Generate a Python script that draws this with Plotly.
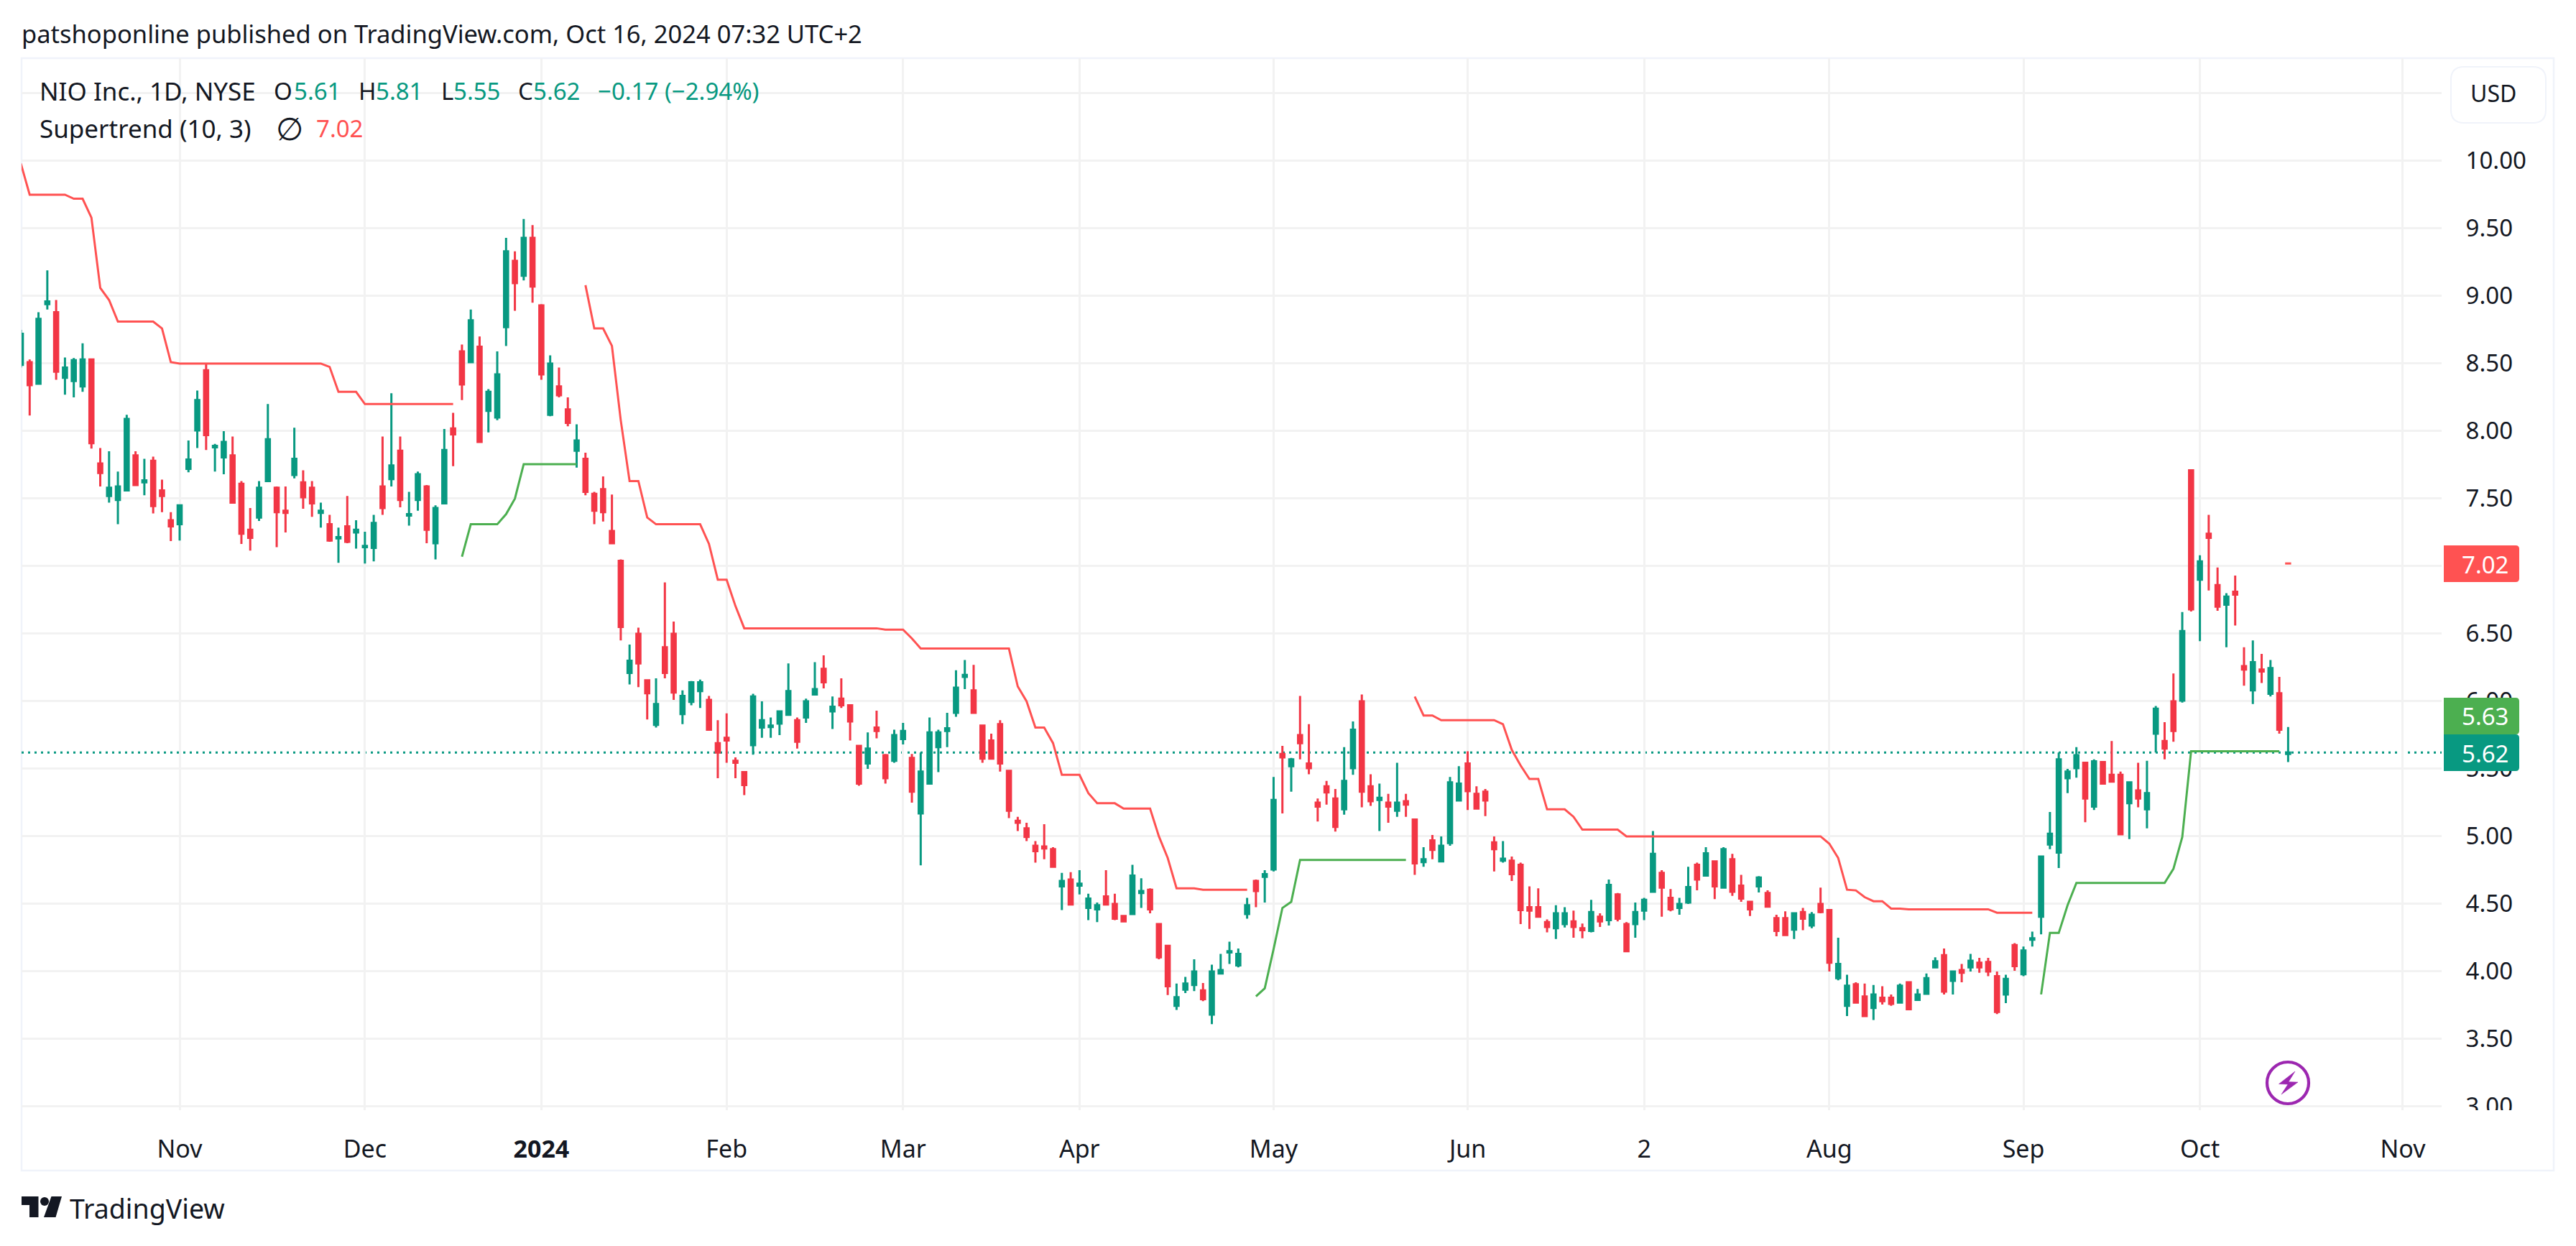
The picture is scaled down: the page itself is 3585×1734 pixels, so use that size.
import plotly.graph_objects as go

bars = list(range(-18, 240))

opens = [
 8.49,8.51,8.35,8.94,8.88,8.395,8.37,8.33,8.53,7.76,
 7.52,7.49,7.56,7.82,7.62,7.78,7.56,7.34,7.31,7.72,
 8.005,8.45,7.88,7.805,7.82,7.61,7.27,7.36,7.63,7.58,
 7.41,7.675,7.62,7.58,7.395,7.31,7.205,7.295,7.25,7.14,
 7.135,7.59,7.645,7.855,7.375,7.49,7.59,7.17,7.465,8.02,
 8.59,8.51,8.625,8.15,8.10,8.77,9.26,9.15,9.43,8.93,
 8.12,8.33,8.16,7.855,7.795,7.535,7.57,7.26,7.04,6.21,
 6.50,6.155,5.825,6.40,6.50,5.905,5.995,6.075,6.01,5.69,
 5.73,5.56,5.475,5.675,5.805,5.81,5.835,5.90,5.86,5.88,
 6.05,6.24,5.925,6.02,5.97,5.67,5.54,5.805,5.60,5.56,
 5.72,5.58,5.17,5.39,5.66,5.78,5.915,6.18,6.08,5.82,
 5.71,5.83,5.485,5.115,5.06,4.93,4.925,4.905,4.63,4.68,
 4.635,4.47,4.46,4.555,4.50,4.41,4.425,4.58,4.605,4.35,
 4.19,3.745,3.865,3.90,3.86,3.68,3.985,4.14,4.045,4.425,
 4.67,4.70,4.755,5.61,5.52,5.75,5.54,5.25,5.37,5.28,
 5.20,5.505,6.0,5.37,5.27,5.25,5.19,5.26,5.125,4.81,
 4.97,4.815,4.95,5.265,5.54,5.315,5.33,4.955,4.82,4.82,
 4.79,4.475,4.475,4.365,4.32,4.35,4.37,4.32,4.30,4.405,
 4.38,4.57,4.35,4.35,4.45,4.59,4.73,4.545,4.47,4.51,
 4.79,4.71,4.815,4.62,4.83,4.635,4.515,4.63,4.58,4.395,
 4.395,4.31,4.44,4.34,4.50,4.455,3.95,3.745,3.905,3.815,
 3.73,3.805,3.805,3.77,3.92,3.79,3.835,4.03,4.12,3.93,
 4.01,4.03,4.065,4.07,3.965,3.83,4.195,3.98,4.235,4.405,
 4.94,4.88,5.43,5.505,5.545,5.22,5.55,5.455,5.455,5.245,
 5.34,5.20,5.76,5.705,6.0,6.005,7.71,6.90,7.24,6.86,
 6.715,6.81,6.26,6.08,6.235,6.055,6.06,5.61]

highs = [
 8.75,8.53,8.88,9.19,8.97,8.545,8.54,8.65,8.53,7.875,
 7.85,7.70,8.12,7.85,7.795,7.81,7.64,7.40,7.45,7.93,
 8.30,8.50,7.905,8.0,7.96,7.63,7.43,7.63,8.20,7.59,
 7.59,8.025,7.71,7.63,7.47,7.38,7.285,7.52,7.34,7.255,
 7.38,7.96,8.28,7.96,7.55,7.70,7.60,7.45,8.015,8.135,
 8.64,8.90,8.70,8.31,8.59,9.43,9.33,9.57,9.525,8.94,
 8.56,8.47,8.25,8.05,7.84,7.55,7.665,7.53,7.05,6.42,
 6.545,6.155,6.17,6.88,6.59,6.08,6.15,6.16,6.04,5.86,
 5.91,5.585,5.475,6.055,6.0,5.88,5.925,6.28,5.88,6.02,
 6.29,6.34,6.035,6.17,5.975,5.675,5.77,5.93,5.61,5.79,
 5.84,5.61,5.62,5.88,5.79,5.915,6.23,6.305,6.27,5.82,
 5.76,5.86,5.49,5.145,5.10,4.965,5.09,4.92,4.73,4.735,
 4.75,4.575,4.51,4.75,4.575,4.41,4.79,4.69,4.615,4.35,
 4.19,3.91,3.96,4.09,3.915,4.05,4.13,4.22,4.17,4.545,
 4.68,4.75,5.44,5.67,5.58,6.04,5.83,5.28,5.41,5.35,
 5.66,5.85,6.05,5.46,5.39,5.315,5.545,5.315,5.13,4.92,
 5.01,5.0,5.44,5.52,5.63,5.37,5.35,5.0,4.965,4.85,
 4.805,4.63,4.615,4.385,4.49,4.475,4.45,4.355,4.53,4.43,
 4.68,4.58,4.365,4.51,4.545,5.04,4.75,4.61,4.545,4.775,
 4.805,4.92,4.815,4.92,4.87,4.715,4.52,4.705,4.60,4.42,
 4.445,4.43,4.47,4.44,4.62,4.455,4.25,3.975,3.92,3.91,
 3.90,3.89,3.83,3.91,3.925,3.87,3.985,4.105,4.17,4.005,
 4.055,4.13,4.10,4.10,4.0,3.975,4.21,4.185,4.295,4.85,
 5.18,5.62,5.50,5.66,5.545,5.57,5.55,5.705,5.48,5.40,
 5.545,5.56,5.965,5.845,6.205,6.66,7.71,7.08,7.38,6.99,
 6.80,6.93,6.40,6.45,6.35,6.305,6.18,5.81]

lows = [
 8.47,8.115,8.35,8.90,8.38,8.27,8.25,8.29,7.87,7.59,
 7.47,7.31,7.56,7.60,7.525,7.39,7.40,7.185,7.19,7.695,
 7.875,7.86,7.70,7.68,7.47,7.165,7.115,7.335,7.625,7.14,
 7.25,7.65,7.425,7.365,7.285,7.18,7.025,7.17,7.13,7.02,
 7.035,7.38,7.59,7.435,7.30,7.41,7.17,7.05,7.465,7.74,
 8.23,8.51,7.92,7.99,8.08,8.63,8.89,9.115,8.95,8.38,
 8.11,8.25,8.035,7.73,7.525,7.31,7.33,7.165,6.45,6.125,
 6.105,5.865,5.805,6.17,6.01,5.83,5.97,5.95,5.79,5.43,
 5.545,5.43,5.305,5.605,5.73,5.73,5.75,5.895,5.65,5.84,
 6.045,6.095,5.795,5.95,5.71,5.375,5.50,5.725,5.39,5.545,
 5.68,5.25,4.785,5.385,5.475,5.66,5.885,6.09,5.91,5.545,
 5.57,5.48,5.135,5.04,4.965,4.805,4.83,4.77,4.455,4.49,
 4.57,4.38,4.365,4.49,4.38,4.37,4.42,4.47,4.43,4.09,
 3.825,3.715,3.84,3.855,3.78,3.61,3.985,4.055,4.03,4.39,
 4.475,4.51,4.74,5.17,5.33,5.57,5.46,5.11,5.235,5.035,
 5.16,5.455,5.215,5.225,5.04,5.10,5.145,5.145,4.715,4.775,
 4.83,4.81,4.93,5.26,5.195,5.20,5.15,4.74,4.805,4.67,
 4.35,4.315,4.40,4.29,4.24,4.325,4.25,4.245,4.29,4.33,
 4.34,4.37,4.145,4.25,4.38,4.59,4.405,4.445,4.42,4.50,
 4.60,4.705,4.535,4.62,4.56,4.515,4.41,4.585,4.475,4.26,
 4.27,4.24,4.305,4.32,4.43,4.0,3.935,3.67,3.765,3.67,
 3.64,3.755,3.745,3.765,3.715,3.785,3.83,4.03,3.83,3.83,
 3.92,4.0,3.99,3.965,3.685,3.765,4.005,3.965,4.185,4.275,
 4.905,4.765,5.32,5.435,5.105,5.195,5.385,5.405,5.01,4.98,
 5.215,5.06,5.62,5.57,5.70,5.99,6.665,6.445,6.82,6.67,
 6.40,6.56,6.115,5.98,6.135,6.035,5.76,5.55]

closes = [
 8.72,8.34,8.83,8.96,8.44,8.47,8.525,8.53,7.91,7.69,
 7.58,7.59,8.09,7.60,7.635,7.445,7.52,7.295,7.45,7.79,
 8.23,7.97,7.89,7.92,7.47,7.24,7.21,7.58,7.94,7.40,
 7.395,7.795,7.51,7.465,7.41,7.19,7.215,7.18,7.27,7.15,
 7.32,7.43,7.745,7.49,7.385,7.68,7.27,7.43,7.86,7.975,
 8.345,8.82,7.92,8.29,8.42,9.33,9.095,9.43,9.07,8.42,
 8.50,8.265,8.06,7.93,7.55,7.41,7.40,7.17,6.55,6.30,
 6.28,6.06,5.98,6.21,6.065,6.04,6.14,6.14,5.79,5.62,
 5.71,5.545,5.38,6.035,5.86,5.82,5.925,6.075,5.70,6.0,
 6.09,6.14,5.96,5.97,5.85,5.39,5.65,5.78,5.43,5.75,
 5.78,5.33,5.48,5.77,5.77,5.80,6.10,6.195,5.915,5.575,
 5.575,5.54,5.19,5.10,4.995,4.89,4.91,4.775,4.67,4.495,
 4.65,4.54,4.49,4.495,4.39,4.37,4.71,4.595,4.46,4.105,
 3.89,3.81,3.91,4.0,3.795,4.0,4.01,4.15,4.13,4.49,
 4.595,4.72,5.27,5.585,5.57,5.69,5.505,5.22,5.325,5.07,
 5.41,5.79,5.33,5.26,5.285,5.22,5.25,5.235,4.80,4.83,
 4.90,4.93,5.40,5.39,5.335,5.205,5.265,4.905,4.835,4.72,
 4.455,4.45,4.405,4.33,4.43,4.43,4.33,4.305,4.44,4.37,
 4.64,4.39,4.15,4.44,4.53,4.87,4.62,4.46,4.50,4.625,
 4.68,4.875,4.63,4.905,4.59,4.54,4.46,4.695,4.48,4.30,
 4.27,4.43,4.39,4.42,4.44,4.065,4.055,3.895,3.77,3.67,
 3.83,3.78,3.76,3.895,3.72,3.83,3.95,4.075,3.85,4.0,
 3.99,4.08,4.03,4.0,3.70,3.945,4.04,4.155,4.245,4.85,
 5.02,5.57,5.48,5.60,5.28,5.555,5.39,5.405,5.015,5.40,
 5.28,5.32,5.945,5.65,5.78,6.52,6.68,7.035,7.21,6.70,
 6.775,6.79,6.235,6.29,6.22,6.245,5.79,5.62]

st_red = [
 9.98,9.75,9.75,9.75,9.75,9.75,9.72,9.72,9.58,9.06,8.97,8.81,8.81,8.81,8.81,8.81,8.76,8.51,
 8.50,8.50,8.50,8.50,8.50,8.50,8.50,8.50,8.50,8.50,8.50,8.50,8.50,8.50,8.50,8.50,8.50,
 8.475,8.29,8.29,8.29,8.20,8.20,8.20,8.20,8.20,8.20,8.20,8.20,8.20,8.20,8.20,
 None,None,None,None,None,None,None,None,None,None,None,None,None,None,
 9.08,8.76,8.76,8.63,8.08,7.63,7.63,7.36,7.31,7.31,7.31,7.31,7.31,7.31,7.165,6.90,6.90,6.705,
 6.54,6.54,6.54,6.54,6.54,6.54,6.54,6.54,6.54,6.54,6.54,6.54,6.54,6.54,6.54,6.54,
 6.53,6.53,6.53,6.465,6.39,6.39,6.39,6.39,6.39,6.39,6.39,6.39,6.39,6.39,6.39,
 6.11,6.0,5.805,5.805,5.69,5.455,5.455,5.455,5.32,5.245,5.245,5.245,5.205,5.205,5.205,5.205,
 5.0,4.84,4.615,4.615,4.615,4.605,4.605,4.605,4.605,4.605,4.605,
 None,None,None,None,None,None,None,None,None,None,None,None,None,None,None,None,None,None,
 6.035,5.895,5.895,5.86,5.86,5.86,5.86,5.86,5.86,5.86,5.83,5.64,5.525,5.425,5.425,5.20,5.20,5.20,5.145,
 5.05,5.05,5.05,5.05,5.05,
 5.0,5.0,5.0,5.0,5.0,5.0,5.0,5.0,5.0,5.0,5.0,5.0,5.0,5.0,5.0,5.0,5.0,5.0,5.0,5.0,5.0,5.0,5.0,
 4.945,4.84,4.605,4.60,4.55,4.52,4.52,4.465,4.465,
 4.46,4.46,4.46,4.46,4.46,4.46,4.46,4.46,4.46,4.46,
 4.435,4.435,4.435,4.435,4.435,
 None,None,None,None,None,None,None,None,None,None,None,None,None,None,
 None,None,None,None,None,None,None,None,None,None,None,None,None,None,
 7.02]

st_green = [
 None,None,None,None,None,None,None,None,None,None,None,None,None,None,None,None,None,None,None,None,
 None,None,None,None,None,None,None,None,None,None,None,None,None,None,None,None,None,None,None,None,
 None,None,None,None,None,None,None,None,None,None,
 7.07,7.31,7.31,7.31,7.31,7.385,7.50,7.755,7.755,7.755,7.755,7.755,7.755,7.755,
 None,None,None,None,None,None,None,None,None,None,None,None,None,None,None,None,None,None,None,None,
 None,None,None,None,None,None,None,None,None,None,None,None,None,None,None,None,None,None,None,None,
 None,None,None,None,None,None,None,None,None,None,None,None,None,None,None,None,None,None,None,None,
 None,None,None,None,None,None,None,None,None,None,None,None,None,None,None,None,
 3.815,3.875,4.165,4.47,4.515,4.825,4.825,4.825,4.825,4.825,4.825,4.825,4.825,4.825,4.825,4.825,4.825,4.825,
 None,None,None,None,None,None,None,None,None,None,None,None,None,None,None,None,None,None,None,None,
 None,None,None,None,None,None,None,None,None,None,None,None,None,None,None,None,None,None,None,None,
 None,None,None,None,None,None,None,None,None,None,None,None,None,None,None,None,None,None,None,None,
 None,None,None,None,None,None,None,None,None,None,None,
 3.83,4.285,4.285,4.49,4.655,4.655,4.655,4.655,4.655,4.655,4.655,4.655,4.655,4.655,4.655,
 4.76,4.995,5.63,5.63,5.63,5.63,5.63,5.63,5.63,5.63,5.63,5.63,5.63,None]

assert all(len(a) == len(bars) for a in (opens, highs, lows, closes, st_red, st_green)), \
    [len(a) for a in (bars, opens, highs, lows, closes, st_red, st_green)]

time_ticks = [0, 21, 41, 62, 82, 102, 124, 146, 166, 187, 209, 229, 252]
time_labels = ["Nov", "Dec", "<b>2024</b>", "Feb", "Mar", "Apr", "May", "Jun", "2", "Aug", "Sep", "Oct", "Nov"]
price_ticks = [10.5, 10, 9.5, 9, 8.5, 8, 7.5, 7, 6.5, 6, 5.5, 5, 4.5, 4, 3.5, 3]
price_labels = ["", "10.00", "9.50", "9.00", "8.50", "8.00", "7.50", "7.00", "6.50", "6.00", "5.50", "5.00", "4.50", "4.00", "3.50", "3.00"]
last_close = 5.62
last_st_green = 5.63
last_st_red = 7.02

TEAL, RED = "#089981", "#F23645"
ST_RED, ST_GREEN = "#FF5252", "#4CAF50"
INK = "#131722"
GRID = "#F2F2F2"
BORDER = "#F0F3FA"
FONT = "Noto Sans"
W, H = 3585, 1734
L, R, T, B = 30, 3398, 81, 1545

def px(x): return (x - L) / (R - L)
def py(y): return (B - y) / (B - T)

fig = go.Figure()
fig.add_trace(go.Scatter(x=bars, y=st_red, mode="lines", line=dict(color=ST_RED, width=3), connectgaps=False, showlegend=False))
fig.add_trace(go.Scatter(x=bars, y=st_green, mode="lines", line=dict(color=ST_GREEN, width=3), connectgaps=False, showlegend=False))
fig.add_trace(go.Scatter(x=bars[-1:], y=st_red[-1:], mode="markers",
                         marker=dict(symbol="line-ew", size=6, line=dict(color=ST_RED, width=3)), showlegend=False))
fig.add_trace(go.Candlestick(
    x=bars, open=opens, high=highs, low=lows, close=closes, whiskerwidth=0, showlegend=False,
    increasing=dict(line=dict(color=TEAL, width=3), fillcolor=TEAL),
    decreasing=dict(line=dict(color=RED, width=3), fillcolor=RED)))

shapes = []
def rect(x0, y0, x1, y1, **kw):
    shapes.append(dict(type="rect", xref="paper", yref="paper", x0=px(x0), x1=px(x1), y0=py(y0), y1=py(y1), **kw))
def poly(points, color, width=0):
    d = "M" + " L".join(f"{px(x):.6f},{py(y):.6f}" for x, y in points) + " Z"
    shapes.append(dict(type="path", xref="paper", yref="paper", path=d, fillcolor=color, layer="above",
                       line=dict(width=width, color=color)))
def badge(y0, y1, color):
    r = 5
    d = (f"M{px(3401):.6f},{py(y0):.6f} L{px(3506-r):.6f},{py(y0):.6f} Q{px(3506):.6f},{py(y0):.6f} {px(3506):.6f},{py(y0+r):.6f} "
         f"L{px(3506):.6f},{py(y1-r):.6f} Q{px(3506):.6f},{py(y1):.6f} {px(3506-r):.6f},{py(y1):.6f} L{px(3401):.6f},{py(y1):.6f} Z")
    shapes.append(dict(type="path", xref="paper", yref="paper", path=d, fillcolor=color, layer="above", line=dict(width=0)))

# outer frame
rect(L, T, 3554, 1629, line=dict(color=BORDER, width=2.5), layer="below")
# last price dotted line
shapes.append(dict(type="line", xref="paper", yref="y", x0=0, x1=1, y0=last_close, y1=last_close,
                   line=dict(color=TEAL, width=3, dash="3px,6px"), layer="below"))
# clip of the lowest price label
rect(3400, B, 3550, 1575, fillcolor="white", line=dict(width=0), layer="above")
# currency button
d = (f"M{px(3429):.6f},{py(93):.6f} L{px(3525):.6f},{py(93):.6f} Q{px(3543):.6f},{py(93):.6f} {px(3543):.6f},{py(111):.6f} "
     f"L{px(3543):.6f},{py(153):.6f} Q{px(3543):.6f},{py(171):.6f} {px(3525):.6f},{py(171):.6f} "
     f"L{px(3429):.6f},{py(171):.6f} Q{px(3411):.6f},{py(171):.6f} {px(3411):.6f},{py(153):.6f} "
     f"L{px(3411):.6f},{py(111):.6f} Q{px(3411):.6f},{py(93):.6f} {px(3429):.6f},{py(93):.6f} Z")
shapes.append(dict(type="path", xref="paper", yref="paper", path=d, fillcolor="white", layer="above",
                   line=dict(color=BORDER, width=2)))
badge(759, 810, ST_RED)
badge(971, 1022, ST_GREEN)
badge(1022, 1073, TEAL)
# lightning badge
shapes.append(dict(type="circle", xref="paper", yref="paper", x0=px(3184-29), x1=px(3184+29), y0=py(1507+29), y1=py(1507-29),
                   fillcolor="white", line=dict(color="#9C27B0", width=4.2), layer="above"))
poly([(3194, 1491), (3171.5, 1508.5), (3184, 1509), (3175, 1523), (3198, 1506), (3185, 1505.5)], "#9C27B0", 0.5)
# logo
poly([(30, 1665), (53.5, 1665), (53.5, 1694), (41, 1694), (41, 1677), (30, 1677)], INK)
poly([(71.5, 1665), (86, 1665), (77.5, 1694), (61, 1694)], INK)
shapes.append(dict(type="circle", xref="paper", yref="paper", x0=px(56), x1=px(68), y0=py(1678), y1=py(1666),
                   fillcolor=INK, line=dict(width=0), layer="above"))

annotations = []
def text(x, y, s, color=INK, size=33, anchor="left"):
    annotations.append(dict(xref="paper", yref="paper", x=px(x), y=py(y), text=s, showarrow=False,
                            xanchor=anchor, yanchor="middle", borderpad=0, borderwidth=0,
                            font=dict(family=FONT, size=size, color=color)))

text(30, 47, "patshoponline published on TradingView.com, Oct 16, 2024 07:32 UTC+2", size=34.5)
text(55, 127, "NIO Inc., 1D, NYSE", size=35)
for x, s, c in [(381, "O", INK), (409, "5.61", TEAL), (499, "H", INK), (523, "5.81", TEAL), (614, "L", INK),
                (631, "5.55", TEAL), (721, "C", INK), (742, "5.62", TEAL), (832, "−0.17 (−2.94%)", TEAL)]:
    text(x, 127, s, c)
text(55, 178, "Supertrend (10, 3)", size=35)
text(384, 178, "∅", size=44)
text(440, 178, "7.02", ST_RED)
text(3470, 130, "USD", anchor="center", size=32)
text(3426, 785, f"{last_st_red:.2f}", "white")
text(3426, 997, f"{last_st_green:.2f}", "white")
text(3426, 1048, f"{last_close:.2f}", "white")
text(97, 1681, "TradingView", size=37.5)

fig.update_layout(
    width=W, height=H, margin=dict(l=L, r=W - R, t=T, b=H - B), autosize=False,
    paper_bgcolor="white", plot_bgcolor="white", showlegend=False, hovermode=False, boxgap=0.35,
    font=dict(family=FONT, size=32, color=INK),
    shapes=shapes, annotations=annotations,
    xaxis=dict(type="linear", range=[-17.92, 256.4], rangeslider=dict(visible=False), tickmode="array",
               tickvals=time_ticks, ticktext=time_labels, showgrid=True, gridcolor=GRID, gridwidth=3,
               zeroline=False, showline=False, ticks="outside", ticklen=24, tickcolor="rgba(0,0,0,0)", tickwidth=1,
               tickfont=dict(family=FONT, size=34, color=INK), tickangle=0),
    yaxis=dict(side="right", range=[2.973, 10.76], tickmode="array", tickvals=price_ticks, ticktext=price_labels,
               showgrid=True, gridcolor=GRID, gridwidth=3, zeroline=False, showline=False,
               ticks="outside", ticklen=26, tickcolor="rgba(0,0,0,0)", tickwidth=1,
               tickfont=dict(family=FONT, size=33, color=INK)),
)

fig.write_html("out.html", post_script="document.body.style.margin='0';document.documentElement.style.overflow='hidden';",
               config=dict(displayModeBar=False))
